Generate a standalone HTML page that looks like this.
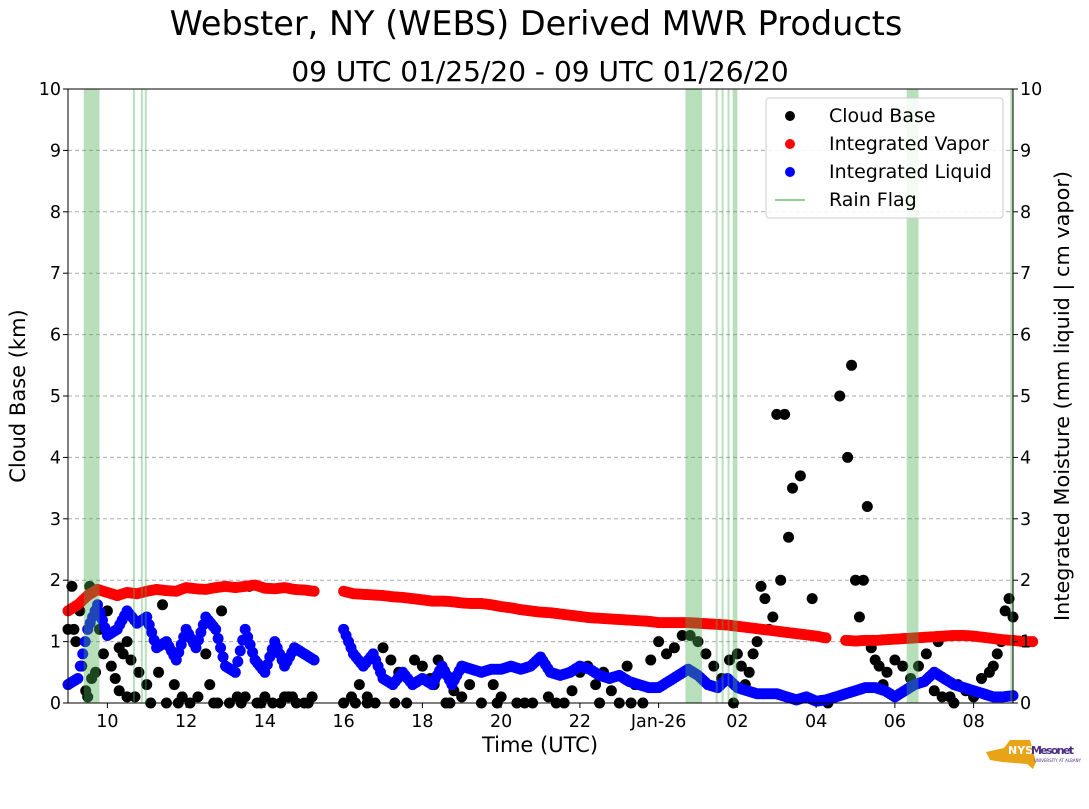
<!DOCTYPE html>
<html><head><meta charset="utf-8"><style>
body{margin:0;background:#fff;}
svg text{font-family:"DejaVu Sans","Liberation Sans",sans-serif;}
</style></head><body>
<svg id="chart" width="1089" height="804" xmlns="http://www.w3.org/2000/svg">
<rect width="1089" height="804" fill="#fff"/>
<text x="536" y="35" font-size="33.5" text-anchor="middle">Webster, NY (WEBS) Derived MWR Products</text>
<text x="540" y="81" font-size="28" text-anchor="middle">09 UTC 01/25/20 - 09 UTC 01/26/20</text>
<g id="grid"></g><g id="marks"></g><g id="rain"></g><g id="axes"></g>
<text x="540" y="752" font-size="21" text-anchor="middle">Time (UTC)</text>
<text transform="translate(25,396) rotate(-90)" font-size="21" text-anchor="middle">Cloud Base (km)</text>
<text transform="translate(1069,396) rotate(-90)" font-size="20.8" text-anchor="middle">Integrated Moisture (mm liquid | cm vapor)</text>
<g>
<rect x="766" y="98" width="237" height="120" rx="3" fill="#fff" fill-opacity="0.85" stroke="#ccc"/>
<circle cx="790" cy="116" r="5" fill="#000"/><text x="829" y="122" font-size="19">Cloud Base</text>
<circle cx="790" cy="144" r="5" fill="#f00"/><text x="829" y="150" font-size="19">Integrated Vapor</text>
<circle cx="790" cy="172" r="5" fill="#00f"/><text x="829" y="178" font-size="19">Integrated Liquid</text>
<line x1="775" y1="200" x2="805" y2="200" stroke="#4caf50" stroke-opacity="0.8" stroke-width="1.5"/><text x="829" y="206" font-size="19">Rain Flag</text>
</g>
<g>
<path d="M986 752 L1004 748 L1010 740 L1030 740 L1036 762 L1033 769 L1027 764 L1002 762 L990 760 Z" fill="#e8a317"/>
<text x="1008" y="754" font-size="11" font-weight="bold" fill="#fff">NYS</text>
<text x="1031" y="754" font-size="11" font-weight="bold" fill="#4b2e83" textLength="43">Mesonet</text>
<text x="1034" y="762" font-size="4" fill="#4b2e83">UNIVERSITY AT ALBANY</text>
</g>
</svg>
<script>
const vapor=[1.5,1.6,1.75,1.85,1.8,1.75,1.8,1.78,1.82,1.85,1.83,1.82,1.88,1.86,1.85,1.88,1.9,1.88,1.9,1.92,1.87,1.86,1.88,1.85,1.84,1.82,null,null,1.82,1.78,1.77,1.76,1.75,1.73,1.72,1.7,1.68,1.66,1.66,1.65,1.63,1.62,1.62,1.6,1.57,1.55,1.52,1.5,1.48,1.47,1.45,1.43,1.41,1.39,1.38,1.37,1.36,1.35,1.34,1.33,1.31,1.31,1.31,1.31,1.3,1.29,1.28,1.27,1.25,1.23,1.21,1.19,1.17,1.15,1.13,1.11,1.09,1.06,null,1.02,1.01,1.02,1.02,1.03,1.04,1.05,1.06,1.07,1.08,1.09,1.1,1.1,1.09,1.07,1.05,1.03,1.02,1.0,1.0];
const liquid=[0.3,0.4,1.2,1.6,1.1,1.2,1.5,1.3,1.4,0.9,1.0,0.7,1.2,0.9,1.4,1.2,0.6,0.5,1.2,0.7,0.5,1.0,0.6,0.9,0.8,0.7,null,null,1.2,0.8,0.6,0.8,0.4,0.3,0.5,0.3,0.4,0.3,0.6,0.3,0.6,0.55,0.5,0.55,0.55,0.6,0.55,0.6,0.75,0.5,0.45,0.5,0.6,0.55,0.45,0.4,0.45,0.35,0.3,0.25,0.25,0.35,0.45,0.55,0.45,0.3,0.25,0.4,0.25,0.2,0.15,0.15,0.15,0.1,0.05,0.1,0.03,0.05,0.1,0.15,0.2,0.25,0.25,0.2,0.1,0.2,0.3,0.35,0.5,0.4,0.3,0.25,0.2,0.15,0.1,0.1,0.12];
const cloudHours=[0,0.1,0.2,0.3,0.35,0.45,0.5,0.6,0.7,0.8,0.9,1.0,1.1,1.2,1.3,1.4,1.5,1.6,1.7,1.8,2.0,2.1,2.3,2.5,2.7,2.9,3.1,3.3,3.5,3.7,3.9,4.1,4.3,4.5,4.6,4.8,5.0,5.2,5.4,5.6,5.8,6.0,6.2,7.0,7.2,7.4,7.6,7.8,8.0,8.2,8.4,8.6,8.8,9.0,9.2,9.4,9.6,9.8,10.0,10.2,10.5,10.8,11.0,11.4,11.8,12.2,12.6,13.0,13.2,13.4,13.6,13.8,14.0,14.2,14.4,14.6,14.8,15.0,15.2,15.4,15.6,15.8,16.0,16.2,16.4,16.6,16.8,17.0,17.1,17.2,17.3,17.4,17.5,17.6,17.7,17.8,17.9,18.0,18.1,18.2,18.3,18.4,18.6,18.9,19.6,19.8,19.9,20.0,20.1,20.2,20.3,20.4,20.5,20.6,20.8,21.0,21.2,21.4,21.6,21.8,22.0,22.2,22.4,22.6,22.8,23.0,23.2,23.4,23.5,23.6,23.7,23.8,23.9,24.0,0.15,0.55,1.3,2.4,3.6,4.9,5.5,7.6,9.3,12.8,16.9,20.7,22.1,1.5,2.8,3.8,4.4,5.7,6.1,7.3,8.3,9.7,10.9,11.6,12.4,13.5,14.3,19.3,22.5];
const cloudKm=[1.2,1.9,1.0,1.5,0.6,0.2,0.1,0.4,0.5,1.2,0.8,1.5,0.6,0.4,0.2,0.8,0.1,0.7,0.1,0.5,0.3,0.0,0.5,0.0,0.3,0.1,0.0,0.1,0.8,0.0,1.5,0.0,0.1,0.1,1.9,0.0,0.1,0.0,0.0,0.1,0.0,0.0,0.1,0.0,0.1,0.3,0.1,0.0,0.9,0.7,0.5,0.0,0.7,0.6,0.4,0.7,0.0,0.2,0.1,0.3,0.0,0.3,0.1,0.0,0.0,0.1,0.0,0.5,0.6,0.3,0.5,0.2,0.0,0.6,0.3,0.0,0.7,1.0,0.8,0.9,1.1,1.1,1.0,0.8,0.6,0.4,0.7,0.8,0.6,0.3,0.5,0.8,1.0,1.9,1.7,1.2,1.4,4.7,2.0,4.7,2.7,3.5,3.7,1.7,5.0,4.0,5.5,2.0,1.4,2.0,3.2,0.9,0.7,0.6,0.5,0.7,0.6,0.4,0.6,0.8,0.2,0.1,0.1,0.3,0.2,0.1,0.4,0.5,0.6,0.8,1.0,1.5,1.7,1.4,1.2,1.9,0.9,1.6,0.3,0.0,0.1,0.0,0.3,0.2,0.0,0.3,1.0,1.0,0.0,0.0,0.0,0.1,0.0,0.0,0.0,0.0,0.0,0.0,0.0,0.0,0.0,0.0,0.0,0.0];
const rainStart=[0.4,0.62,1.65,1.85,1.95,15.68,15.85,16.45,16.6,16.75,16.88,21.3,21.35,23.93];
const rainEnd=[0.62,0.8,1.7,1.9,2.0,15.85,16.1,16.5,16.65,16.8,17.0,21.35,21.6,24.0];
const xTicks=[1,3,5,7,9,11,13,15,17,19,21,23];
const xTickLabels=["10","12","14","16","18","20","22","Jan-26","02","04","06","08"];
const yTicks=[0,1,2,3,4,5,6,7,8,9,10];

const L=68,R=1013,T=89,B=703,NS="http://www.w3.org/2000/svg";
const x=h=>L+(R-L)*h/24, y=v=>B-(B-T)*v/10;
function mk(tag,p,attrs){const e=document.createElementNS(NS,tag);for(const k in attrs)e.setAttribute(k,attrs[k]);p.appendChild(e);return e;}
const grid=document.getElementById('grid'),marks=document.getElementById('marks'),rain=document.getElementById('rain'),axes=document.getElementById('axes');
yTicks.forEach(v=>{if(v>0&&v<10){const g=mk('line',grid,{x1:L,x2:R,y1:y(v),y2:y(v),stroke:'#aaa','stroke-dasharray':'4,3','stroke-width':1});

}
[[L,-5,'end',L-7],[R,5,'start',R+7]].forEach(([xx,d,a,tx])=>{mk('line',axes,{x1:xx,x2:xx+d,y1:y(v),y2:y(v),stroke:'#000'});
const t=mk('text',axes,{x:tx,y:y(v)+6,'font-size':17.5,'text-anchor':a});t.textContent=v;

});});
xTicks.forEach((h,i)=>{mk('line',axes,{x1:x(h),x2:x(h),y1:B,y2:B+5,stroke:'#000'});
const t=mk('text',axes,{x:x(h),y:B+24,'font-size':17.5,'text-anchor':'middle'});t.textContent=xTickLabels[i];

});
mk('rect',axes,{x:L,y:T,width:R-L,height:B-T,fill:'none',stroke:'#000','stroke-width':1});
function dot(h,v,c,name){const e=mk('circle',marks,{cx:x(h),cy:y(v),r:5.5,fill:c});

}
cloudHours.forEach((h,i)=>dot(h,cloudKm[i],'#000','cloud-base-point'));
vapor.forEach((v,i)=>{if(v!==null)dot(i*0.25,v,'#f00','vapor-point');});
liquid.forEach((v,i)=>{if(v!==null)dot(i*0.25,v,'#00f','liquid-point');});
function fill(arr,c,name){for(let i=0;i<arr.length-1;i++){if(arr[i]===null||arr[i+1]===null)continue;for(let k=1;k<4;k++){const f=k/4;dot((i+f)*0.25,arr[i]+(arr[i+1]-arr[i])*f,c,name);}}}
fill(vapor,'#f00','vapor-point');fill(liquid,'#00f','liquid-point');
rainStart.forEach((s,i)=>{const e=mk('rect',rain,{x:x(s),y:T,width:Math.max(1.5,x(rainEnd[i])-x(s)),height:B-T,fill:'#4caf50','fill-opacity':0.4});

});
</script>
</body></html>
